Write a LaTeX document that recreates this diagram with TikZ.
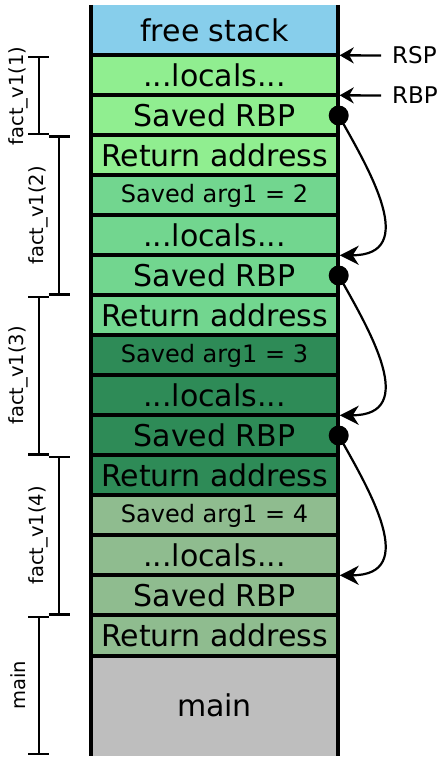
\documentclass[tikz,border=0pt]{standalone}
\usepackage{fontspec}
\setmainfont{DejaVu Sans}
\usetikzlibrary{arrows.meta,calc}
\definecolor{cfree}{HTML}{87CEEB}
\definecolor{cA}{HTML}{90EE90}
\definecolor{cB}{HTML}{72D68F}
\definecolor{cC}{HTML}{2E8B57}
\definecolor{cD}{HTML}{8FBC8F}
\definecolor{cmain}{HTML}{BEBEBE}
\begin{document}
\begin{tikzpicture}[x=1pt,y=-1pt,
  cell/.style={inner sep=0pt, minimum width=246pt, minimum height=40pt, font=\fontsize{30}{36}\selectfont},
  smallcell/.style={cell, font=\fontsize{24}{29}\selectfont},
  sep/.style={line width=4pt},
  side/.style={line width=4pt},
  dot/.style={circle, fill=black, inner sep=0pt, minimum size=20pt},
  regarrow/.style={line width=2.3pt, -{Stealth[length=14pt,width=16pt,inset=4.5pt]}},
  link/.style={line width=2.2pt, -{Stealth[length=19pt,width=19pt,inset=6pt]}},
  reg/.style={anchor=west, inner xsep=11pt, inner ysep=0pt, font=\fontsize{23}{27}\selectfont},
  lab/.style={rotate=90, inner sep=0pt, font=\fontsize{19.5}{23}\selectfont},
  br/.style={line width=2.4pt}]
\useasboundingbox (0,0) rectangle (446,762);
% cells
\node[cell, fill=cfree, minimum height=50.5pt] (free) at (214.5,30.25) {free stack};
\node[cell, fill=cA] (r1) at (214.5,75.5) {...locals...};
\node[cell, fill=cA] (r2) at (214.5,115.5) {Saved RBP};
\node[cell, fill=cA] (r3) at (214.5,155.5) {Return address};
\node[smallcell, fill=cB] (r4) at (214.5,195.5) {Saved arg1 = 2};
\node[cell, fill=cB] (r5) at (214.5,235.5) {...locals...};
\node[cell, fill=cB] (r6) at (214.5,275.5) {Saved RBP};
\node[cell, fill=cB] (r7) at (214.5,315.5) {Return address};
\node[smallcell, fill=cC] (r8) at (214.5,355.5) {Saved arg1 = 3};
\node[cell, fill=cC] (r9) at (214.5,395.5) {...locals...};
\node[cell, fill=cC] (r10) at (214.5,435.5) {Saved RBP};
\node[cell, fill=cC] (r11) at (214.5,475.5) {Return address};
\node[smallcell, fill=cD] (r12) at (214.5,515.5) {Saved arg1 = 4};
\node[cell, fill=cD] (r13) at (214.5,555.5) {...locals...};
\node[cell, fill=cD] (r14) at (214.5,595.5) {Saved RBP};
\node[cell, fill=cD] (r15) at (214.5,635.5) {Return address};
\node[cell, fill=cmain, minimum height=100.5pt] (main) at (214.5,705.75) {main};
% separators
\foreach \k in {1,...,15} \draw[sep] (r\k.north west) -- (r\k.north east);
\draw[sep] (r15.south west) -- (r15.south east);
% sides
\draw[side] (free.north west) -- (main.south west);
\draw[side] (free.north east) -- (main.south east);
% registers
\node[reg] (rsp) at (381,55.5) {RSP};
\node[reg] (rbp) at (381,95.5) {RBP};
\draw[regarrow] (rsp.west) -- ([xshift=2pt]r1.north east);
\draw[regarrow] (rbp.west) -- ([xshift=2pt]r2.north east);
% saved RBP links
\node[dot] (d1) at ([xshift=1pt]r2.east) {};
\node[dot] (d2) at ([xshift=1pt]r6.east) {};
\node[dot] (d3) at ([xshift=1pt]r10.east) {};
\draw[link] (d1.center) .. controls ($(d1.center)+(31,55)$) and ($(r6.north east)+(82,0)$) .. ([xshift=2pt]r6.north east);
\draw[link] (d2.center) .. controls ($(d2.center)+(31,55)$) and ($(r10.north east)+(82,0)$) .. ([xshift=2pt]r10.north east);
\draw[link] (d3.center) .. controls ($(d3.center)+(31,55)$) and ($(r14.north east)+(82,0)$) .. ([xshift=2pt]r14.north east);
% brackets
\draw[br] (28,57) -- (49,57) (39,57) -- (39,134.3) (28,134.3) -- (49,134.3);
\draw[br] (48.5,136.7) -- (69.5,136.7) (59,136.7) -- (59,294.3) (48.5,294.3) -- (69.5,294.3);
\draw[br] (28,296.7) -- (49,296.7) (39,296.7) -- (39,454.3) (28,454.3) -- (49,454.3);
\draw[br] (48.5,456.7) -- (69.5,456.7) (59,456.7) -- (59,614.3) (48.5,614.3) -- (69.5,614.3);
\draw[br] (28,616.7) -- (49,616.7) (39,616.7) -- (39,754) (28,754) -- (49,754);
\node[lab] (l1) at (18.5,96) {fact\_v1(1)};
\node[lab] (l2) at (38.5,215.5) {fact\_v1(2)};
\node[lab] (l3) at (18.5,375.5) {fact\_v1(3)};
\node[lab] (l4) at (38.5,535.5) {fact\_v1(4)};
\node[lab] (l5) at (18.5,685.5) {main};
\end{tikzpicture}
\end{document}
